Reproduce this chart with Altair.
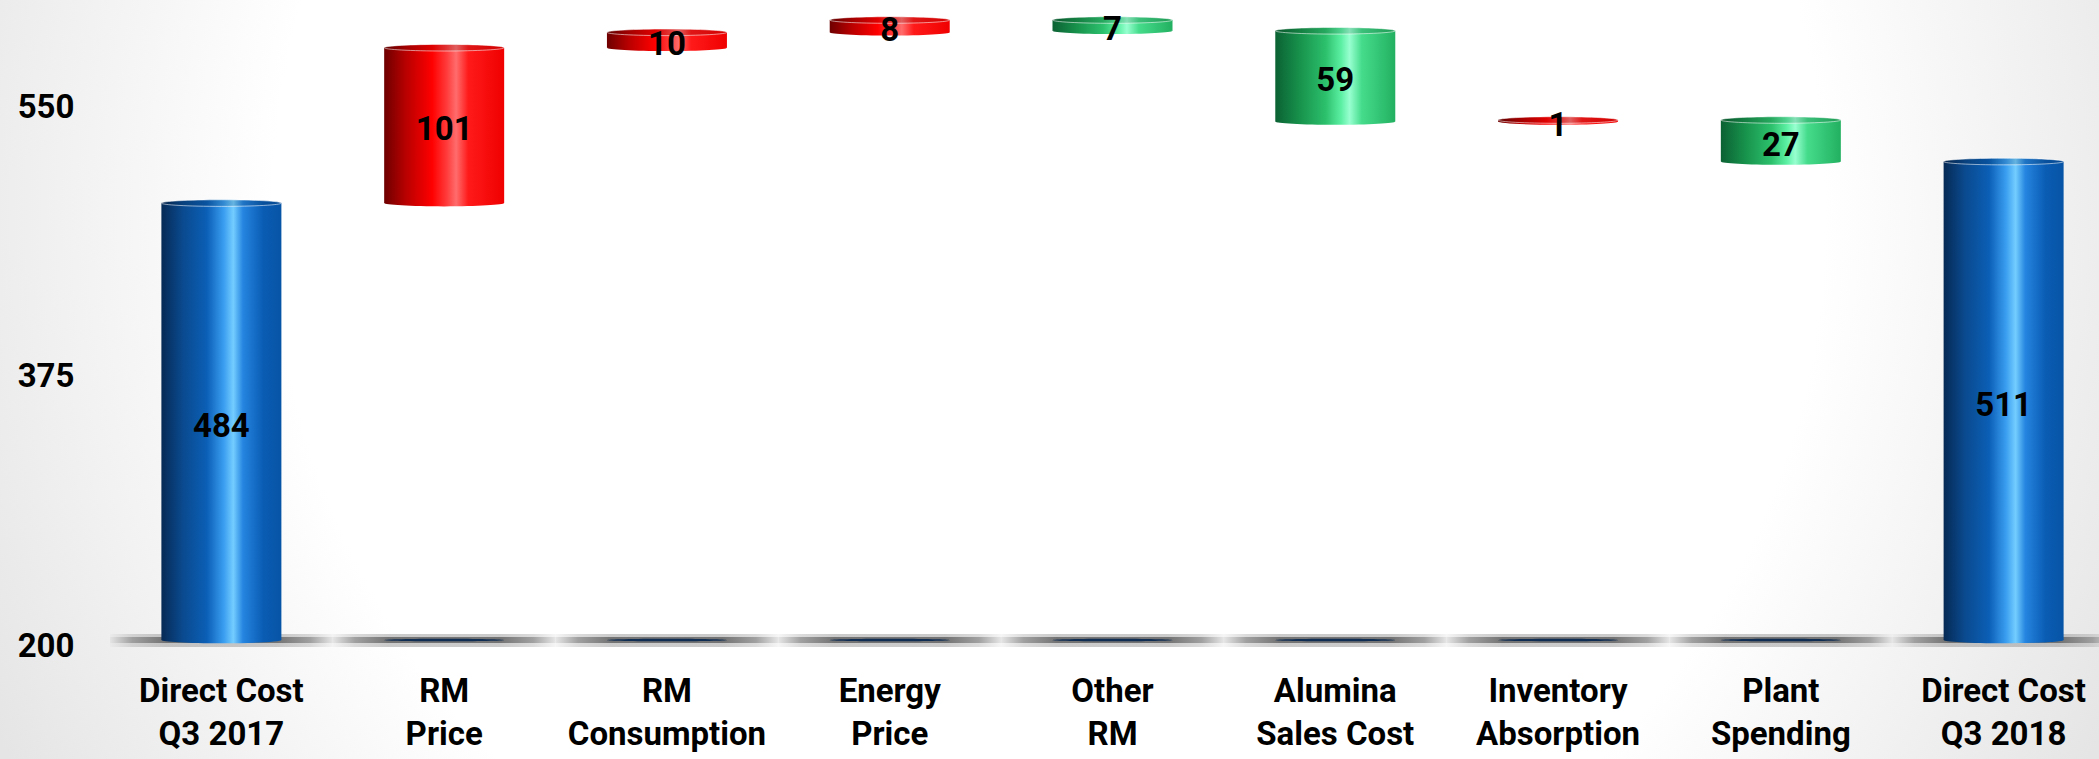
import altair as alt
import pandas as pd

# Direct cost bridge, Q3 2017 -> Q3 2018
categories = [
    "Direct Cost|Q3 2017", "RM|Price", "RM|Consumption", "Energy|Price",
    "Other|RM", "Alumina|Sales Cost", "Inventory|Absorption",
    "Plant|Spending", "Direct Cost|Q3 2018",
]
opening_total = 484
changes = [101, 10, 8, -7, -59, 1, -27]
closing_total = 511
y_ticks = [200, 375, 550]
axis_floor = 200

# running levels for the floating bars
rows = [dict(cat=categories[0], low=axis_floor, high=opening_total,
             value=opening_total, kind="total")]
level = opening_total
for cat, d in zip(categories[1:-1], changes):
    new = level + d
    rows.append(dict(cat=cat, low=min(level, new), high=max(level, new),
                     value=abs(d), kind="up" if d > 0 else "down"))
    level = new
rows.append(dict(cat=categories[-1], low=axis_floor, high=closing_total,
                 value=closing_total, kind="total"))
df = pd.DataFrame(rows)
df["mid"] = (df["low"] + df["high"]) / 2

FONT = "Roboto"
FS = 33
ELLIPSE = "M-1,0A1,0.055,0,1,0,1,0A1,0.055,0,1,0,-1,0Z"
BASE_LINE = "M-1,0A1,0.022,0,1,0,1,0A1,0.022,0,1,0,-1,0Z"
BAR_W = 120


def hgrad(stops):
    return alt.LinearGradient(
        gradient="linear", x1=0, y1=0, x2=1, y2=0,
        stops=[alt.GradientStop(offset=o, color=c) for o, c in stops],
    )


blue = hgrad([(0, "#062a55"), (0.18, "#0a4a8f"), (0.38, "#0b5fb6"),
              (0.52, "#3a9ef0"), (0.6, "#74cdff"), (0.68, "#2585e0"),
              (0.85, "#0a5cb3"), (1, "#0654a6")])
red = hgrad([(0, "#6e0000"), (0.18, "#b80000"), (0.4, "#ff0000"),
             (0.52, "#ff3a3a"), (0.6, "#ff6c6c"), (0.7, "#ff1a1a"),
             (1, "#f00000")])
green = hgrad([(0, "#0b6133"), (0.2, "#17914b"), (0.42, "#2cc06c"),
               (0.55, "#5cf0a4"), (0.62, "#98ffd0"), (0.72, "#45dc8c"),
               (1, "#22b060")])
shadow = hgrad([(0, "#e4e4e4"), (0.1, "#9a9a9a"), (0.25, "#6a6a6a"),
                (0.75, "#6a6a6a"), (0.9, "#9a9a9a"), (1, "#e4e4e4")])
backdrop = alt.RadialGradient(
    gradient="radial", x1=0.5, y1=0.42, r1=0, x2=0.5, y2=0.42, r2=0.56,
    stops=[alt.GradientStop(offset=0, color="#ffffff"),
           alt.GradientStop(offset=0.66, color="#ffffff"),
           alt.GradientStop(offset=1, color="#e5e5e5")],
)

x_scale = alt.Scale(domain=categories, range=[10, 2015],
                    paddingInner=0, paddingOuter=0)
y_scale = alt.Scale(domain=[200, 616], nice=False, zero=False)

x_axis = alt.Axis(
    title=None, labelExpr="split(datum.label, '|')", labelAngle=0,
    labelFont=FONT, labelFontSize=FS, labelFontWeight="bold",
    labelColor="#000000", labelLineHeight=43, labelPadding=35,
    labelBaseline="top", labelLimit=400, labelOverlap=False,
    ticks=False, tickSize=0, domain=False, grid=False, zindex=2,
)
y_axis = alt.Axis(
    title=None, values=y_ticks, labelFont=FONT, labelFontSize=FS,
    labelFontWeight="bold", labelColor="#000000", labelPadding=26,
    labelOffset=6, ticks=False, tickSize=0, domain=False, grid=False,
    zindex=2,
)

x_enc = alt.X("cat:N", scale=x_scale, sort=categories, axis=x_axis)


def y_enc(field):
    return alt.Y(f"{field}:Q", scale=y_scale, axis=y_axis)


base = alt.Chart(df)

# page backdrop with soft grey edges
bg = alt.Chart(pd.DataFrame({"k": [0]})).mark_rect(fill=backdrop).encode(
    x=alt.value(-100), x2=alt.value(1999), y=alt.value(0), y2=alt.value(759)
)

# floor shadow under each category
floor_soft = base.mark_bar(color=shadow, opacity=0.35,
                           width=alt.RelativeBandSize(1)).encode(
    x=x_enc, y=alt.value(634), y2=alt.value(647))
floor = base.mark_bar(color=shadow, opacity=0.9,
                      width=alt.RelativeBandSize(1)).encode(
    x=x_enc, y=alt.value(637), y2=alt.value(643))

# dark footprint of the floating bars on the floor
footprint = base.transform_filter(alt.datum.kind != "total").mark_point(
    shape=BASE_LINE, size=BAR_W * BAR_W, filled=True, fill="#0f2d52",
    opacity=1, strokeWidth=0).encode(x=x_enc, y=alt.value(640))


def cylinder(kind, grad):
    part = base.transform_filter(alt.datum.kind == kind)
    bottom = part.mark_point(shape=ELLIPSE, size=BAR_W * BAR_W, filled=True,
                             fill=grad, opacity=1, strokeWidth=0).encode(
        x=x_enc, y=y_enc("low"))
    body = part.mark_bar(color=grad, width=BAR_W).encode(
        x=x_enc, y=y_enc("low"), y2="high:Q")
    top = part.mark_point(shape=ELLIPSE, size=BAR_W * BAR_W, filled=True,
                          fill=grad, opacity=1, strokeWidth=0).encode(
        x=x_enc, y=y_enc("high"))
    cap = part.mark_point(shape=ELLIPSE, size=BAR_W * BAR_W, filled=True,
                          fill="#000000", fillOpacity=0.12, stroke="#ffffff",
                          strokeOpacity=0.55, strokeWidth=1, opacity=1).encode(
        x=x_enc, y=y_enc("high"))
    return [bottom, body, top, cap]


labels = base.mark_text(font=FONT, fontSize=FS, fontWeight="bold",
                        color="#000000", dy=5).encode(
    x=x_enc, y=y_enc("mid"), text=alt.Text("value:Q", format="d"))

layers = [bg, floor_soft, floor, footprint]
layers += cylinder("total", blue)
layers += cylinder("up", red)
layers += cylinder("down", green)
layers.append(labels)

chart = alt.layer(*layers).properties(
    width=1999, height=640,
    padding={"left": 100, "top": 0, "right": 0, "bottom": 119},
    autosize=alt.AutoSizeParams(type="none"),
    background="#ffffff",
).configure_view(strokeWidth=0)

chart.save("out.html", embed_options={"renderer": "svg", "actions": False})
